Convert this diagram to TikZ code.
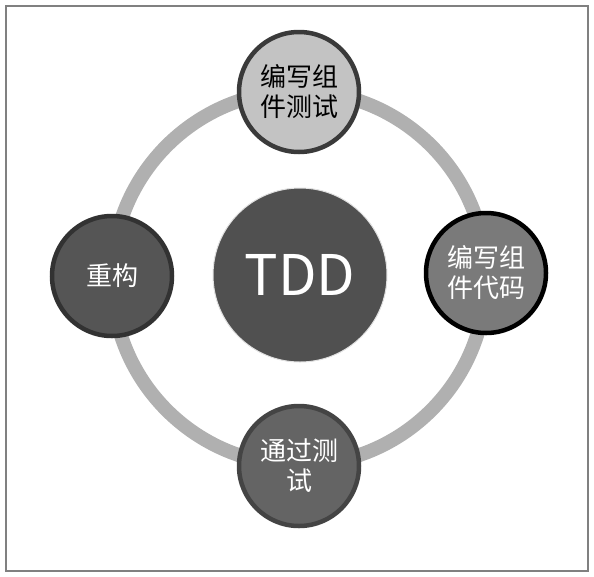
\documentclass[tikz,border=0pt]{standalone}
\usepackage{fontspec}
\setmainfont{Noto Sans CJK SC}
\newfontfamily\cjk{Noto Sans CJK SC}
\begin{document}
\begin{tikzpicture}[x=1pt,y=-1pt,
  stage/.style={circle,minimum size=120pt,inner sep=0pt,align=center,font=\cjk\fontsize{26}{30}\selectfont,line width=4.5pt},
  ringline/.style={draw=ringgray,line width=14pt}]
\definecolor{ringgray}{HTML}{B0B0B0}
\definecolor{framegray}{HTML}{808080}
\useasboundingbox (0,0) rectangle (594,576);
\draw[framegray,line width=2pt] (6,6) rectangle (588,571);
\coordinate (ringc) at (299,278);
\draw[ringline] (ringc) circle (187);
\node[circle,minimum size=174pt,inner sep=0pt,fill={rgb,255:red,80;green,80;blue,80},draw={rgb,255:red,225;green,225;blue,225},line width=1pt,text=white,font=\fontsize{56}{60}\selectfont] (tdd) at (300,275) {TDD};
\node[stage,fill={rgb,255:red,195;green,195;blue,195},draw={rgb,255:red,58;green,58;blue,58},text=black] (test) at (299,92) {编写组\\件测试};
\node[stage,fill={rgb,255:red,122;green,122;blue,122},draw=black,text=white] (code) at (486,273) {编写组\\件代码};
\node[stage,fill={rgb,255:red,100;green,100;blue,100},draw={rgb,255:red,68;green,68;blue,68},text=white] (pass) at (299,466) {通过测\\试};
\node[stage,fill={rgb,255:red,85;green,85;blue,85},draw={rgb,255:red,50;green,50;blue,50},text=white] (refac) at (112,276) {重构};
\end{tikzpicture}
\end{document}
